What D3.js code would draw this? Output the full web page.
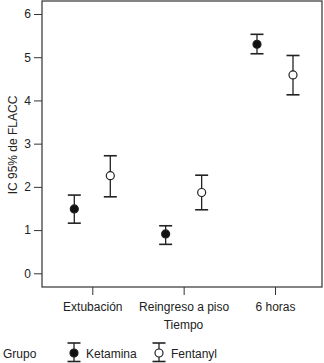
<!DOCTYPE html>
<html><head><meta charset="utf-8">
<script src="https://cdn.jsdelivr.net/npm/d3@7"></script>
<style>body{margin:0;background:#fff}svg{display:block}text{font-family:"Liberation Sans",Arial,sans-serif;fill:#222}</style>
</head><body><svg id="c" width="324" height="363"></svg>
<script>
const categories = ["Extubación", "Reingreso a piso", "6 horas"];
const groups = ["Ketamina", "Fentanyl"];
const ketMean = [1.49, 0.91, 5.30];
const ketLow = [1.16, 0.67, 5.08];
const ketHigh = [1.81, 1.10, 5.53];
const fenMean = [2.26, 1.87, 4.59];
const fenLow = [1.77, 1.47, 4.13];
const fenHigh = [2.72, 2.27, 5.04];
const yTicks = [0, 1, 2, 3, 4, 5, 6];

const svg = d3.select("#c");
const L = 42, R = 322, T = 1, B = 287;
const y = d3.scaleLinear().domain([0, 6]).range([273.3, 14]);
const x = d3.scalePoint().domain(categories).range([92.3, 275]);
const off = d3.scalePoint().domain(groups).range([-18, 18]);

svg.append("rect").attr("x", L).attr("y", T).attr("width", R - L).attr("height", B - T)
  .attr("fill", "none").attr("stroke", "#333").attr("stroke-width", 1.2);

const ya = svg.append("g").attr("transform", `translate(${L},0)`)
  .call(d3.axisLeft(y).tickValues(yTicks).tickSize(8).tickPadding(3).tickFormat(d3.format("d")));
const xa = svg.append("g").attr("transform", `translate(0,${B})`)
  .call(d3.axisBottom(x).tickSize(8).tickPadding(7));
[ya, xa].forEach(a => {
  a.select(".domain").remove();
  a.selectAll("line").attr("stroke", "#333");
  a.selectAll("text").attr("font-size", 12).attr("fill", "#222").attr("font-family", '"Liberation Sans",Arial,sans-serif');
});

svg.append("text").attr("transform", "translate(13,145) rotate(-90)").attr("text-anchor", "middle")
  .attr("dominant-baseline", "central").attr("font-size", 12).text("IC 95% de FLACC");
svg.append("text").attr("x", 183.5).attr("y", 325).attr("text-anchor", "middle")
  .attr("dominant-baseline", "central").attr("font-size", 12).text("Tiempo");

const data = [];
categories.forEach((c, i) => {
  data.push({c, g: "Ketamina", m: ketMean[i], lo: ketLow[i], hi: ketHigh[i]});
  data.push({c, g: "Fentanyl", m: fenMean[i], lo: fenLow[i], hi: fenHigh[i]});
});
const cap = 6.5;
function errbar(g, cx, yl, yh, ym, filled) {
  g.append("line").attr("x1", cx).attr("x2", cx).attr("y1", yl).attr("y2", yh).attr("stroke", "#222").attr("stroke-width", 1.3);
  g.append("line").attr("x1", cx - cap).attr("x2", cx + cap).attr("y1", yl).attr("y2", yl).attr("stroke", "#222").attr("stroke-width", 1.6);
  g.append("line").attr("x1", cx - cap).attr("x2", cx + cap).attr("y1", yh).attr("y2", yh).attr("stroke", "#222").attr("stroke-width", 1.6);
  g.append("circle").attr("cx", cx).attr("cy", ym).attr("r", 4)
    .attr("fill", filled ? "#111" : "#fff").attr("stroke", "#222").attr("stroke-width", 1.2);
}
const pg = svg.append("g");
data.forEach(d => {
  errbar(pg, x(d.c) + off(d.g), y(d.lo), y(d.hi), y(d.m), d.g === "Ketamina");
});

// legend
const lg = svg.append("g");
lg.append("text").attr("x", 3).attr("y", 353.5).attr("dominant-baseline", "central").attr("font-size", 12).text("Grupo");
const lx = [74, 159];
groups.forEach((g, i) => {
  errbar(lg, lx[i], 361.5, 343, 353, i === 0);
  lg.append("text").attr("x", lx[i] + 12).attr("y", 353.5).attr("dominant-baseline", "central").attr("font-size", 12).text(g);
});
</script></body></html>
